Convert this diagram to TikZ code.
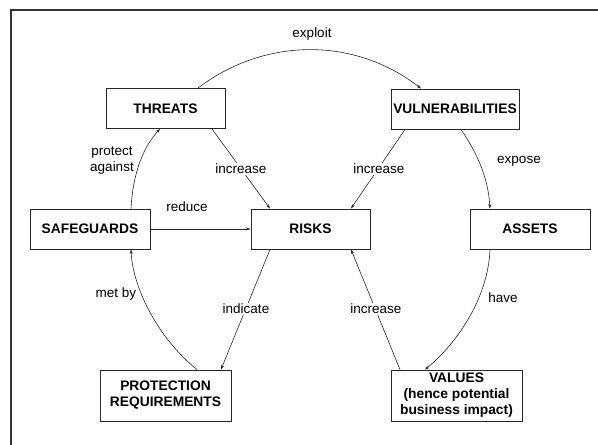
\documentclass[tikz,border=0pt]{standalone}
\usepackage{fontspec}
\setmainfont{Liberation Sans}
\usetikzlibrary{arrows.meta}
\begin{document}
\begin{tikzpicture}[x=1pt,y=-1pt,
  box/.style={draw=black!85,line width=0.9pt,inner sep=0pt,align=center,
    font=\bfseries\fontsize{13.8}{16}\selectfont},
  conn/.style={draw=black!85,line width=0.6pt,-{Stealth[length=4.5pt,width=3pt]}},
  lbl/.style={font=\fontsize{13.5}{16}\selectfont,inner sep=1pt,align=center},
  onl/.style={lbl,fill=white}]
\useasboundingbox (0,0) rectangle (598,445);
\draw[black!80,line width=1.1pt] (11,446) -- (11,10) -- (599,10);
% boxes
\node[box,minimum width=119pt,minimum height=40pt] (thr) at (165.5,108.5) {THREATS};
\node[box,minimum width=128pt,minimum height=40pt] (vul) at (455,109) {VULNERABILITIES};
\node[box,minimum width=120pt,minimum height=40pt] (sfg) at (90,229) {SAFEGUARDS};
\node[box,minimum width=119pt,minimum height=40pt] (rsk) at (310.5,229) {RISKS};
\node[box,minimum width=120pt,minimum height=40pt] (ast) at (530,229) {ASSETS};
\node[box,minimum width=131pt,minimum height=51pt] (prt) at (165.5,395.5) {PROTECTION\\REQUIREMENTS};
\node[box,minimum width=131pt,minimum height=51pt] (val) at (456.5,395.5) {VALUES\\(hence potential\\business impact)};
% connectors
\draw[conn] ([xshift=32.5]thr.north) .. controls (265,37) and (355,37) .. ([xshift=-34]vul.north);
\draw[conn] ([xshift=46.5]thr.south) -- ([xshift=-40.5]rsk.north);
\draw[conn] ([xshift=-50]vul.south) -- ([xshift=40.5]rsk.north);
\draw[conn] ([xshift=6]vul.south) .. controls (475,150) and (488,175) .. ([xshift=-40]ast.north);
\draw[conn] ([xshift=41]sfg.north) .. controls (133,170) and (145,145) .. ([xshift=-5.5]thr.south);
\draw[conn] (sfg.east) -- (rsk.west);
\draw[conn] ([xshift=-40.5]rsk.south) -- ([xshift=55.5]prt.north);
\draw[conn] ([xshift=31.5]prt.north) .. controls (160,340) and (133,290) .. ([xshift=41]sfg.south);
\draw[conn] ([xshift=-56.5]val.north) -- ([xshift=40.5]rsk.south);
\draw[conn] ([xshift=-40]ast.south) .. controls (488,300) and (455,345) .. ([xshift=-31.5]val.north);
% labels
\node[lbl] (lexp) at (312,34) {exploit};
\node[lbl] (lpro) at (112,161) {protect\\against};
\node[onl] (linc1) at (241,169) {increase};
\node[onl] (linc2) at (379,169) {increase};
\node[lbl] (lexo) at (519,161) {expose};
\node[lbl] (lred) at (187,207) {reduce};
\node[lbl] (lmet) at (116,294) {met by};
\node[onl] (lind) at (246,309) {indicate};
\node[onl] (linc3) at (376,309) {increase};
\node[lbl] (lhav) at (503,298) {have};
\end{tikzpicture}
\end{document}
